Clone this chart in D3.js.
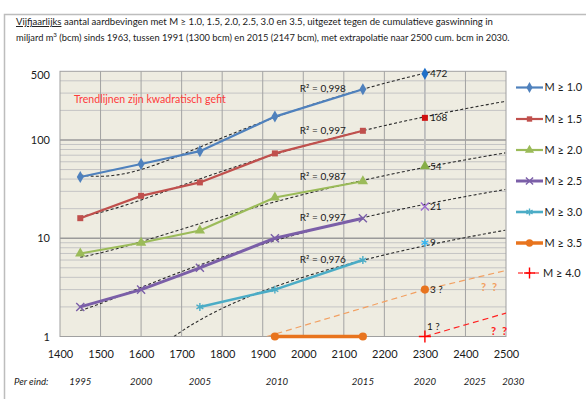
<!DOCTYPE html>
<html>
<head>
<meta charset="utf-8">
<script src="https://cdn.jsdelivr.net/npm/d3@7"></script>
<style>
  html, body { margin: 0; padding: 0; background: #ffffff; }
  svg { display: block; }
  text { font-family: Lato, "Open Sans", "Liberation Sans", sans-serif; fill: #1a1a1a; }
</style>
</head>
<body>
<svg id="chart" width="586" height="399"></svg>
<script>
// Cumulative gas production (bcm) at the end of each five-year period
const cumGas = [1450, 1600, 1745, 1930, 2147];
const periodEnds = ["1995", "2000", "2005", "2010", "2015", "2020", "2025", "2030"];
const periodEndGas = [1450, 1600, 1745, 1935, 2147, 2300, 2423, 2518];

// Five-yearly earthquake counts per magnitude threshold (0 = none recorded)
const countM10 = [42, 57, 77, 173, 328];
const countM15 = [16, 27, 37, 73, 124];
const countM20 = [7, 9, 12, 26, 38];
const countM25 = [2, 3, 5, 10, 16];
const countM30 = [0, 0, 2, 3, 6];
const countM35 = [0, 0, 0, 1, 1];

// Extrapolation to 2020 (2300 bcm)
const projGas = 2300;
const projCounts = [472, 168, 54, 21, 9, 3, 1];
const projLabels = ["472", "168", "54", "21", "9", "3 ?", "1 ?"];

// Coefficients of determination of the quadratic trendlines
const rSquared = ["R\u00b2 = 0,998", "R\u00b2 = 0,997", "R\u00b2 = 0,987", "R\u00b2 = 0,997", "R\u00b2 = 0,976"];

// Hand-drawn guides for the largest magnitudes
const guideM35 = [[1910, 1], [2300, 3], [2500, 4.7]];
const guideM40 = [[2300, 1], [2500, 1.73]];

const seriesNames = ["M \u2265 1.0", "M \u2265 1.5", "M \u2265 2.0", "M \u2265 2.5", "M \u2265 3.0", "M \u2265 3.5", "M \u2265 4.0"];
const xTicks = [1400, 1500, 1600, 1700, 1800, 1900, 2000, 2100, 2200, 2300, 2400, 2500];
const yTickLabels = [1, 10, 100, 500];

const series = [
  { values: countM10, color: "#4F81BD", mark: "#1E6FC8", symbol: d3.symbolDiamond, size: 42, width: 2.2, stroke: false, trend: true },
  { values: countM15, color: "#C0504D", mark: "#D01010", symbol: d3.symbolSquare, size: 36, width: 2.2, stroke: false, trend: true },
  { values: countM20, color: "#9BBB59", mark: "#86AE46", symbol: d3.symbolTriangle, size: 46, width: 2.2, stroke: false, trend: true },
  { values: countM25, color: "#7B5FA8", mark: "#9C6BD0", symbol: d3.symbolX, size: 44, width: 3, stroke: true, trend: true },
  { values: countM30, color: "#4BACC6", mark: "#35B5F0", symbol: d3.symbolAsterisk, size: 44, width: 2.6, stroke: true, trend: true },
  { values: countM35, color: "#E8741E", mark: "#E8741E", symbol: d3.symbolCircle, size: 52, width: 3.5, stroke: false, trend: false },
  { values: null, color: "#FF0000", mark: "#FF0000", symbol: d3.symbolPlus, size: 50, width: 1.5, stroke: true, trend: false, dashed: true }
];

const svg = d3.select("#chart");

// Outer chart frame
svg.append("rect").attr("x", 4.5).attr("y", 14.5).attr("width", 620).attr("height", 420)
  .attr("fill", "none").attr("stroke", "#bdbdbd").attr("stroke-width", 1.5);

// Title, two lines
const title = svg.append("g");
const t1 = title.append("text").attr("x", 16).attr("y", 25).style("font-size", "10.5px");
t1.append("tspan").style("text-decoration", "underline").text("Vijfjaarlijks");
t1.append("tspan").text(" aantal aardbevingen met M \u2265 1.0, 1.5, 2.0, 2.5, 3.0 en 3.5, uitgezet tegen de cumulatieve gaswinning  in");
const t2 = title.append("text").attr("x", 16).attr("y", 40.5).style("font-size", "10.5px");
t2.append("tspan").text("miljard m");
t2.append("tspan").attr("dy", -4).style("font-size", "7px").text("3");
t2.append("tspan").attr("dy", 4).text(" (bcm) sinds 1963, tussen 1991 (1300 bcm) en 2015 (2147 bcm), met extrapolatie naar 2500 cum. bcm in 2030.");
function fitWidth(sel, target, base) {
  const w = sel.node().getComputedTextLength();
  sel.style("font-size", (base * target / w).toFixed(2) + "px");
  sel.selectAll("tspan").filter(function () { return this.style.fontSize === "7px"; })
    .style("font-size", (7 * target / w).toFixed(2) + "px");
}
fitWidth(t1, 477, 10.5);
fitWidth(t2, 494, 10.5);

// Scales
const x = d3.scaleLinear().domain([1400, 2500]).range([60, 506]);
const y = d3.scaleLog().domain([1, 500]).range([336.5, 71.3]);

// Plot area
svg.append("rect").attr("x", x(1400)).attr("y", y(500)).attr("width", x(2500) - x(1400))
  .attr("height", y(1) - y(500)).attr("fill", "#EEECE1");

svg.append("clipPath").attr("id", "plotClip").append("rect")
  .attr("x", x(1400)).attr("y", y(500)).attr("width", x(2500) - x(1400)).attr("height", y(1) - y(500));

// Horizontal gridlines: every log step, decades darker
const gridVals = [];
[1, 10, 100].forEach(dec => { for (let k = 1; k <= 9; k++) { const v = dec * k; if (v > 1 && v < 500) gridVals.push(v); } });
svg.append("g").selectAll("line").data(gridVals).join("line")
  .attr("x1", x(1400)).attr("x2", x(2500))
  .attr("y1", d => y(d)).attr("y2", d => y(d))
  .attr("stroke", d => (d === 10 || d === 100) ? "#9a9a9a" : "#c4c4c4")
  .attr("stroke-width", d => (d === 10 || d === 100) ? 1.3 : 1);

// Vertical gridlines
svg.append("g").selectAll("line").data(xTicks.slice(1, -1)).join("line")
  .attr("x1", d => x(d)).attr("x2", d => x(d))
  .attr("y1", y(500)).attr("y2", y(1))
  .attr("stroke", d => d === 2300 ? "#bdbdbd" : "#a3a3a3")
  .attr("stroke-width", d => d === 2300 ? 1.8 : 1);

// Plot border
svg.append("rect").attr("x", x(1400)).attr("y", y(500)).attr("width", x(2500) - x(1400))
  .attr("height", y(1) - y(500)).attr("fill", "none").attr("stroke", "#a0a0a0").attr("stroke-width", 1);

// Axes
const xAxis = d3.axisBottom(x).tickValues(xTicks).tickSize(0).tickPadding(14).tickFormat(d3.format("d"));
const gx = svg.append("g").attr("transform", `translate(0,${y(1)})`).call(xAxis);
gx.select(".domain").remove();
gx.selectAll("text").style("font-size", "11px").style("font-family", "Lato, sans-serif").attr("fill", "#1a1a1a");

const yAxis = d3.axisLeft(y).tickValues(yTickLabels).tickSize(0).tickPadding(10).tickFormat(d3.format("d"));
const gy = svg.append("g").attr("transform", `translate(${x(1400)},0)`).call(yAxis);
gy.select(".domain").remove();
gy.selectAll("text").style("font-size", "11px").style("font-family", "Lato, sans-serif").attr("fill", "#1a1a1a")
  .attr("dy", d => d === 500 ? "0.68em" : "0.32em");

// Period-end row
svg.append("text").attr("x", 14).attr("y", 385).style("font-size", "9.6px").style("font-style", "italic").text("Per eind:");
svg.append("g").selectAll("text").data(periodEnds).join("text")
  .attr("x", (d, i) => x(periodEndGas[i])).attr("y", 385)
  .attr("text-anchor", "middle").style("font-size", "9.6px").style("font-style", "italic").text(d => d);

// Note
svg.append("text").attr("x", 74).attr("y", 103).style("font-size", "10.6px")
  .style("fill", "#FF3B3B").text("Trendlijnen zijn kwadratisch gefit");

// Quadratic least-squares fit y = a + b*u + c*u^2, u = (x - 1800) / 100
function quadFit(xs, ys) {
  const u = xs.map(v => (v - 1800) / 100);
  const S = k => d3.sum(u, v => Math.pow(v, k));
  const T = k => d3.sum(u, (v, i) => Math.pow(v, k) * ys[i]);
  const A = [[S(0), S(1), S(2)], [S(1), S(2), S(3)], [S(2), S(3), S(4)]];
  const B = [T(0), T(1), T(2)];
  // Gaussian elimination
  for (let i = 0; i < 3; i++) {
    for (let j = i + 1; j < 3; j++) {
      const f = A[j][i] / A[i][i];
      for (let k = i; k < 3; k++) A[j][k] -= f * A[i][k];
      B[j] -= f * B[i];
    }
  }
  const c = B[2] / A[2][2];
  const b = (B[1] - A[1][2] * c) / A[1][1];
  const a = (B[0] - A[0][1] * b - A[0][2] * c) / A[0][0];
  return xv => { const uu = (xv - 1800) / 100; return a + b * uu + c * uu * uu; };
}

// Black dashed trendlines
const trendG = svg.append("g").attr("clip-path", "url(#plotClip)");
const trendLine = d3.line().defined(d => d[1] > 0.05).x(d => x(d[0])).y(d => y(Math.max(d[1], 0.05)));
series.forEach(s => {
  if (!s.trend) return;
  const f = quadFit(cumGas, s.values);
  const pts = d3.range(1450, 2501, 4).map(v => [v, f(v)]);
  trendG.append("path").datum(pts).attr("d", trendLine)
    .attr("fill", "none").attr("stroke", "#2b2b2b").attr("stroke-width", 1.1).attr("stroke-dasharray", "3,2.2");
});

// Guides for M >= 3.5 and M >= 4.0
const guideLine = d3.line().x(d => x(d[0])).y(d => y(d[1]));
trendG.append("path").datum(guideM35).attr("d", guideLine).attr("fill", "none")
  .attr("stroke", "#F2A062").attr("stroke-width", 1.2).attr("stroke-dasharray", "6,4");
trendG.append("path").datum(guideM40).attr("d", guideLine).attr("fill", "none")
  .attr("stroke", "#FF2020").attr("stroke-width", 1.2).attr("stroke-dasharray", "6,4");

// Observed series lines and markers
const dataLine = d3.line().defined(d => d[1] > 0).x(d => x(d[0])).y(d => y(d[1]));
function marker(g, s, cx, cy, color, scale) {
  const p = g.append("path").attr("d", d3.symbol().type(s.symbol).size(s.size * (scale || 1))())
    .attr("transform", `translate(${cx},${cy})`);
  if (s.stroke) p.attr("fill", "none").attr("stroke", color).attr("stroke-width", 1.4);
  else p.attr("fill", color);
}
const dataG = svg.append("g");
series.forEach(s => {
  if (!s.values) return;
  const pts = cumGas.map((g, i) => [g, s.values[i]]);
  dataG.append("path").datum(pts).attr("d", dataLine).attr("fill", "none")
    .attr("stroke", s.color).attr("stroke-width", s.width).attr("stroke-linejoin", "round");
  pts.filter(d => d[1] > 0).forEach(d => marker(dataG, s, x(d[0]), y(d[1]), s.color));
});

// Projected values at 2300 bcm with labels
series.forEach((s, i) => {
  marker(dataG, s, x(projGas), y(projCounts[i]), s.mark);
});
svg.append("g").selectAll("text").data(projLabels).join("text")
  .attr("x", (d, i) => x(projGas) + (i === 6 ? 2 : 5))
  .attr("y", (d, i) => y(projCounts[i]) + (i === 6 ? -10 : 0))
  .attr("dy", "0.35em").style("font-size", "10px").text(d => d);

// R-squared labels next to the last observation
svg.append("g").selectAll("text").data(rSquared).join("text")
  .attr("x", x(2147) - 17).attr("y", (d, i) => y(series[i].values[4]) - (i === 2 ? 4 : 0))
  .attr("dy", "0.32em").attr("text-anchor", "end").style("font-size", "10px").text(d => d);

// Question marks for the far extrapolation
[[481, 290.5, "#F2A062"], [492, 290.5, "#F2A062"], [491, 334.5, "#FF2020"], [502, 334.5, "#FF2020"]]
  .forEach(([qx, qy, qc]) => {
    svg.append("text").attr("x", qx).attr("y", qy).style("font-size", "11px").style("font-weight", "bold")
      .style("fill", qc).text("?");
  });

// Legend
const legend = svg.append("g");
const legendY = [87.5, 119, 150, 181, 212, 243, 273];
series.forEach((s, i) => {
  const ly = legendY[i];
  const row = legend.append("g");
  if (s.dashed) {
    row.append("line").attr("x1", 518).attr("x2", 540).attr("y1", ly).attr("y2", ly)
      .attr("stroke", s.color).attr("stroke-width", 1.2).attr("stroke-dasharray", "5,3");
  } else {
    row.append("line").attr("x1", 516).attr("x2", 543).attr("y1", ly).attr("y2", ly)
      .attr("stroke", s.color).attr("stroke-width", s.width);
  }
  marker(row, s, 529.5, ly, s.color, 0.8);
  row.append("text").attr("x", s.dashed ? 543 : 544.5).attr("y", ly).attr("dy", "0.35em")
    .style("font-size", "11px").text(seriesNames[i]);
});
</script>
</body>
</html>
